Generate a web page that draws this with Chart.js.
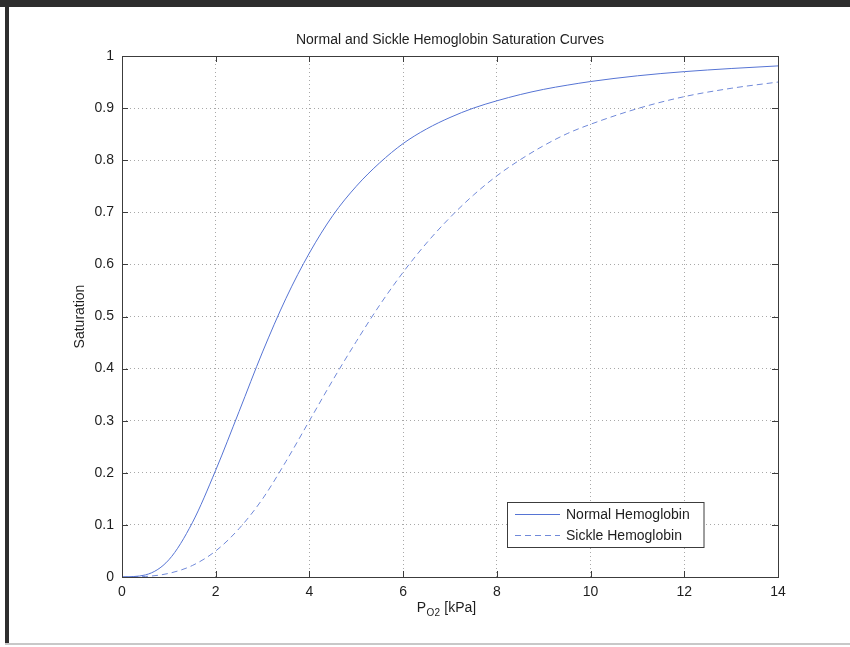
<!DOCTYPE html>
<html>
<head>
<meta charset="utf-8">
<script src="https://cdn.jsdelivr.net/npm/chart.js@4/dist/chart.umd.min.js"></script>
<style>
  html, body { margin: 0; padding: 0; background: #fff; }
  #wrap { position: relative; width: 850px; height: 647px; overflow: hidden; }
  #c { position: absolute; left: 0; top: 0; }
  .frame { position: absolute; z-index: 2; pointer-events: none; }
</style>
</head>
<body>
<div id="wrap">
  <canvas id="c" width="850" height="647"></canvas>
  <div class="frame" style="left:0;top:0;width:850px;height:7px;background:#2e2e2e;"></div>
  <div class="frame" style="left:5px;top:0;width:4px;height:643px;background:#2e2e2e;"></div>
  <div class="frame" style="left:5px;top:643px;width:845px;height:2px;background:#c8c8c8;"></div>
</div>
<script>
// ---- Data ----
const po2 = [0, 0.5, 1, 1.5, 2, 2.5, 3, 3.5, 4, 4.5, 5, 5.5, 6, 6.5, 7, 7.5, 8, 8.5, 9, 9.5, 10, 11, 12, 13, 14];
const normalSat = [0, 0.004, 0.033, 0.104, 0.205, 0.318, 0.432, 0.535, 0.622, 0.694, 0.750, 0.795, 0.832, 0.860, 0.882, 0.900, 0.914, 0.926, 0.936, 0.944, 0.951, 0.962, 0.970, 0.976, 0.981];
const sickleSat = [0, 0.001, 0.007, 0.022, 0.05, 0.093, 0.15, 0.222, 0.30, 0.378, 0.452, 0.522, 0.585, 0.641, 0.690, 0.733, 0.770, 0.801, 0.828, 0.851, 0.869, 0.899, 0.922, 0.938, 0.950];
const seriesLabels = ["Normal Hemoglobin", "Sickle Hemoglobin"];
const chartTitle = "Normal and Sickle Hemoglobin Saturation Curves";
const yTitle = "Saturation";
const xTicks = [0, 2, 4, 6, 8, 10, 12, 14];
const yTicks = [0, 0.1, 0.2, 0.3, 0.4, 0.5, 0.6, 0.7, 0.8, 0.9, 1];

const FONT = "'Liberation Sans', Arial, Helvetica, sans-serif";
const TEXT = '#1e1e1e';
const AXIS = '#3c3c3c';

const toPts = (ys) => po2.map((x, i) => ({ x: x, y: ys[i] }));

const decorPlugin = {
  id: 'decor',
  afterDraw(chart) {
    const ctx = chart.ctx;
    const a = chart.chartArea;
    const xs = chart.scales.x, ys = chart.scales.y;
    ctx.save();
    // box
    ctx.strokeStyle = AXIS;
    ctx.lineWidth = 1;
    ctx.setLineDash([]);
    ctx.strokeRect(Math.round(a.left) + 0.5, Math.round(a.top) + 0.5,
                   Math.round(a.right - a.left), Math.round(a.bottom - a.top));
    // inward ticks
    const tl = 6;
    ctx.beginPath();
    xTicks.forEach(v => {
      const px = Math.round(xs.getPixelForValue(v)) + 0.5;
      ctx.moveTo(px, a.bottom); ctx.lineTo(px, a.bottom - tl);
      ctx.moveTo(px, a.top); ctx.lineTo(px, a.top + tl);
    });
    yTicks.forEach(v => {
      const py = Math.round(ys.getPixelForValue(v)) + 0.5;
      ctx.moveTo(a.left, py); ctx.lineTo(a.left + tl, py);
      ctx.moveTo(a.right, py); ctx.lineTo(a.right - tl, py);
    });
    ctx.stroke();

    // title
    ctx.fillStyle = TEXT;
    ctx.font = '14px ' + FONT;
    ctx.textAlign = 'center';
    ctx.textBaseline = 'middle';
    ctx.fillText(chartTitle, (a.left + a.right) / 2, 40);

    // y title
    ctx.save();
    ctx.translate(80, (a.top + a.bottom) / 2);
    ctx.rotate(-Math.PI / 2);
    ctx.fillText(yTitle, 0, 0);
    ctx.restore();

    // x title: P_O2 [kPa]
    ctx.textAlign = 'left';
    ctx.textBaseline = 'alphabetic';
    const big = '14px ' + FONT, small = '10px ' + FONT;
    ctx.font = big; const wP = ctx.measureText('P').width;
    ctx.font = small; const wS = ctx.measureText('O2').width;
    ctx.font = big; const wR = ctx.measureText(' [kPa]').width;
    const total = wP + wS + wR;
    let x0 = (a.left + a.right) / 2 - total / 2 - 4;
    const base = 612;
    ctx.font = big; ctx.fillText('P', x0, base);
    ctx.font = small; ctx.fillText('O2', x0 + wP + 0.5, base + 4);
    ctx.font = big; ctx.fillText(' [kPa]', x0 + wP + wS + 1, base);

    // legend
    const lx = 507.5, ly = 502.5, lw = 196.5, lh = 45;
    ctx.fillStyle = '#fff';
    ctx.fillRect(lx, ly, lw, lh);
    ctx.strokeStyle = AXIS;
    ctx.lineWidth = 1;
    ctx.strokeRect(lx, ly, lw, lh);
    const rows = [514.5, 535.5];
    chart.data.datasets.forEach((ds, i) => {
      ctx.strokeStyle = ds.borderColor;
      ctx.lineWidth = 1;
      ctx.setLineDash(ds.borderDash || []);
      ctx.beginPath();
      ctx.moveTo(515, rows[i]); ctx.lineTo(560, rows[i]);
      ctx.stroke();
      ctx.setLineDash([]);
      ctx.fillStyle = TEXT;
      ctx.font = '14px ' + FONT;
      ctx.textBaseline = 'middle';
      ctx.fillText(ds.label, 566, rows[i] + 0.5);
    });
    ctx.restore();
  }
};

new Chart(document.getElementById('c'), {
  type: 'line',
  data: {
    datasets: [
      {
        label: seriesLabels[0],
        data: toPts(normalSat),
        borderColor: '#5674d4',
        borderWidth: 1,
        pointRadius: 0,
        fill: false,
        cubicInterpolationMode: 'monotone'
      },
      {
        label: seriesLabels[1],
        data: toPts(sickleSat),
        borderColor: '#7089d9',
        borderWidth: 1,
        borderDash: [6, 4],
        pointRadius: 0,
        fill: false,
        cubicInterpolationMode: 'monotone'
      }
    ]
  },
  options: {
    responsive: false,
    animation: false,
    devicePixelRatio: 1,
    layout: { padding: { top: 56, right: 72, left: 0, bottom: 0 } },
    plugins: {
      legend: { display: false },
      title: { display: false },
      tooltip: { enabled: false }
    },
    scales: {
      x: {
        type: 'linear',
        min: 0, max: 14,
        afterFit: (s) => { s.height = 70; },
        afterBuildTicks: (s) => { s.ticks = xTicks.map(v => ({ value: v })); },
        ticks: {
          padding: 7,
          color: TEXT,
          font: { family: FONT, size: 14 },
          maxRotation: 0,
          callback: (v) => String(v)
        },
        grid: { color: '#a8a8a8', lineWidth: 1, drawTicks: false },
        border: { display: false, dash: [1, 3] }
      },
      y: {
        type: 'linear',
        min: 0, max: 1,
        afterFit: (s) => { s.width = 122; },
        afterBuildTicks: (s) => { s.ticks = yTicks.map(v => ({ value: v })); },
        ticks: {
          padding: 8,
          color: TEXT,
          font: { family: FONT, size: 14 },
          callback: (v) => String(Number(Number(v).toFixed(1)))
        },
        grid: { color: '#a8a8a8', lineWidth: 1, drawTicks: false },
        border: { display: false, dash: [1, 3] }
      }
    }
  },
  plugins: [decorPlugin]
});
</script>
</body>
</html>
